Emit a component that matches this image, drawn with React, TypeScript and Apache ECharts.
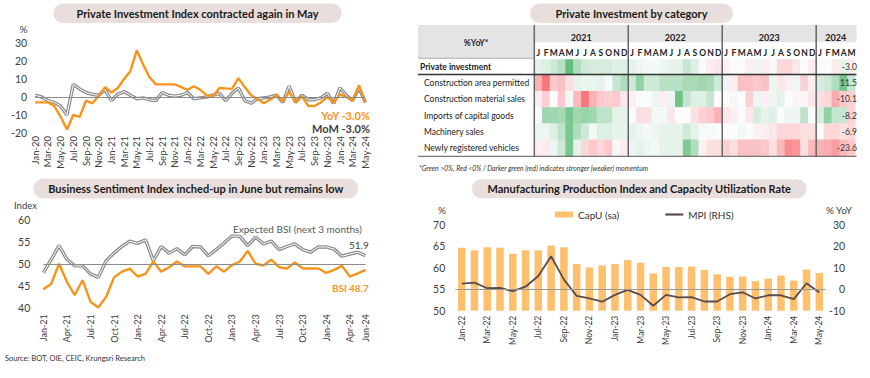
import React, { useEffect, useRef } from 'react';
import * as echarts from 'echarts';

const FONT = 'Lato, "Open Sans", sans-serif';
const ORANGE = '#f7941d';
const GRAY = '#8c8c8c';
const PILL = '#e8dfdd';
const TXT = '#404040';

const MONTH_ABBR = ['Jan', 'Feb', 'Mar', 'Apr', 'May', 'Jun', 'Jul', 'Aug', 'Sep', 'Oct', 'Nov', 'Dec'];
function monthLabels(y0: number, m0: number, n: number): string[] {
  const out: string[] = [];
  for (let i = 0; i < n; i++) {
    const m = (m0 + i) % 12;
    const y = y0 + Math.floor((m0 + i) / 12);
    out.push(`${MONTH_ABBR[m]}-${String(y % 100).padStart(2, '0')}`);
  }
  return out;
}

// ---------- Panel 1: Private Investment Index ----------
const piiMonths = monthLabels(2020, 0, 53);
const piiYoY = [
  -3, -3, -3, -5, -11, -18, -10, -11, -2, -3.5, 0.5, 5.5,
  2.5, 5, 10, 14.5, 26, 18, 11, 7, 7, 7, 7, 5.5,
  4, 6, 4, 1, 0.3, 5, 4.8, 4.5, 10.5, 5.5, 1, -1,
  -3.5, -1.5, 1, -2.5, 3, -3, 0.5, -5, -5, -3, 0, -3,
  1.5, 0, -2, 6.5, -3,
];
const piiMoM = [
  1, 0, -2, -3, -5, -10, 7, 4.5, 2.5, 1.5, 1, 4,
  -2, 1.5, 3, 1, -1, -0.5, -1.5, -2, 2.5, 1, 0.5, 1,
  2.5, -1, -0.5, 0, 1, 2, -2, 2, 5, -2, -3.5, -1,
  -0.5, 0, 1, -3, 6, -3, 1, -1.5, -1.5, -0.5, 2, -3.5,
  5, 1, -2, 5, -3,
];

// ---------- Panel 2: Business Sentiment Index ----------
const bsiMonths = monthLabels(2021, 0, 42);
const bsiActual = [
  44.3, 45.5, 50.1, 46, 43, 46.4, 41.5, 40.2, 42.6, 47, 48.3, 49,
  47.2, 47.8, 50.6, 48.3, 49.3, 50.6, 49.5, 49.5, 49.5, 47.8, 49.5, 48.3,
  49.8, 50.6, 53, 50.1, 49.7, 51, 49.3, 49, 50.4, 49, 49, 49,
  48, 48.7, 49.6, 47.2, 47.9, 48.7,
];
const bsiExpected = [
  48, 51, 54.2, 51.1, 49.6, 49.6, 47.8, 47, 50.8, 52.5, 54, 55.2,
  54.7, 55.5, 50.8, 54, 52.5, 53.5, 52.1, 54, 53.9, 51.9, 53.3, 54.8,
  56.4, 56.3, 54.2, 56.1, 54.6, 55.2, 53.3, 54, 54.6, 53.3, 52.7, 53.9,
  53.9, 53.4, 51.8, 52.3, 52.7, 51.9,
];

// ---------- Panel 4: MPI and CapU ----------
const mpiMonths = monthLabels(2022, 0, 29);
const capU = [
  64.7, 64.1, 64.8, 64.7, 63.3, 64.1, 64.1, 65.2, 64.8, 60.9, 60.1, 60.6,
  60.9, 61.8, 61.2, 58.7, 60.2, 60.2, 60.3, 59.5, 58.5, 57.9, 58, 56.9,
  57.5, 58.2, 57, 59.6, 58.8,
];
const mpiYoY = [
  2.6, 3.1, 0.5, 0.6, -0.9, 1.2, 6.2, 15.4, 4.6, -3.1, -4.2, -5.8,
  -2.6, -0.3, -2.6, -7.7, -2.6, -3.8, -3.7, -5.7, -5.7, -2.3, -1.4, -4.3,
  -2.8, -2.8, -4.6, 2.8, -1.5,
];

// ---------- Panel 3: heat table (colour intensity, -1 red .. +1 green) ----------
const heatMonthLetters = [
  'J', 'F', 'M', 'A', 'M', 'J', 'J', 'A', 'S', 'O', 'N', 'D',
  'J', 'F', 'M', 'A', 'M', 'J', 'J', 'A', 'S', 'O', 'N', 'D',
  'J', 'F', 'M', 'A', 'M', 'J', 'J', 'A', 'S', 'O', 'N', 'D',
  'J', 'F', 'M', 'A', 'M',
];
const heatYears = ['2021', '2022', '2023', '2024'];
const heatYearSpans = [12, 12, 12, 5];
const heatTopRow = ['Private investment'];
const heatTopLatest = ['-3.0'];
const heatRows = [
  'Construction area permitted',
  'Construction material sales',
  'Imports of capital goods',
  'Machinery sales',
  'Newly registered vehicles',
];
const heatLatest = ['11.5', '-10.1', '-8.2', '-6.9', '-23.6'];

const hmPrivateInvestment = [
  0.15, 0.2, 0.3, 0.45, 1.0, 0.5, 0.3, 0.25, 0.25, 0.25, 0.2, 0.2,
  0.15, 0.1, 0.05, 0.05, 0.1, 0.15, 0.15, 0.35, 0.2, 0.03, -0.1, -0.15,
  -0.08, 0.02, 0.02, -0.1, 0.1, -0.1, 0.03, -0.25, -0.25, -0.15, 0.02, -0.12,
  0.02, 0.02, -0.12, 0.15, -0.1,
];
const hmConstructionArea = [
  -0.5, -0.9, -0.35, -0.4, -0.2, 0.15, 0.12, 0.12, 0.15, 0.03, 0.35, 0.5,
  0.3, 0.7, 0.3, 0.3, 0.45, 0.45, 0.45, 0.55, 0.55, 0.6, 0.55, 0.3,
  0.1, -0.1, -0.4, -0.4, -0.35, -0.4, 0.1, -0.15, -0.08, 0.1, -0.3, -0.1,
  0.25, 0.3, 0.5, 0.9, 0.35,
];
const hmConstructionMaterial = [
  -0.1, -0.3, 0, -0.35, 0.05, -0.45, -0.9, -0.5, -0.35, -0.3, -0.35, -0.15,
  -0.08, 0.02, 0.02, 0.1, -0.1, 0.1, 0.9, 0.35, 0.2, 0.2, 0.35, 0,
  0.02, 0.05, 0.02, -0.3, 0.1, -0.1, 0.1, 0.15, 0, -0.05, -0.05, -0.15,
  -0.2, -0.25, -0.55, -0.35, -0.3,
];
const hmCapitalImports = [
  0.02, 0.6, 0.6, 0.55, 0.85, 0.6, 0.65, 0.6, 0.4, 0.4, 0.15, 0.15,
  0.02, -0.2, -0.2, 0.05, 0.05, -0.15, 0.02, 0.02, -0.2, -0.3, -0.35, -0.5,
  -0.15, -0.1, 0.02, -0.15, 0.25, 0.15, 0.2, 0.02, 0.1, 0.1, 0.4, 0.02,
  0.25, 0.7, 0.35, 0.35, -0.3,
];
const hmMachinerySales = [
  0.1, 0.1, 0.2, 0.4, 0.85, 0.5, 0.3, 0.05, 0.2, 0.2, 0.15, 0.15,
  0.15, 0.1, 0.05, 0.1, 0.15, 0.15, 0.15, 0.3, 0.15, 0.03, 0.03, 0.02,
  0.02, 0.02, 0.05, 0.02, -0.08, -0.1, -0.15, -0.25, -0.25, -0.25, -0.2, -0.2,
  0.02, -0.25, -0.25, -0.2, -0.25,
];
const hmVehicles = [
  -0.1, -0.12, 0.1, 0.3, 0.85, 0.15, -0.25, -0.35, -0.25, -0.35, 0.05, -0.1,
  0.1, 0.15, 0.1, 0.05, 0.15, 0.15, 0.15, 0.8, 0.5, -0.08, -0.2, -0.2,
  -0.3, -0.2, -0.4, -0.4, -0.4, -0.35, -0.2, -0.45, -0.75, -0.7, -0.2, -0.45,
  -0.5, -0.55, -0.65, -0.45, -0.35,
];
const hmDetailRows = [hmConstructionArea, hmConstructionMaterial, hmCapitalImports, hmMachinerySales, hmVehicles];

// ---------- layout ----------
const HM_LEFT = 534.3;
const HM_CELL = 7.83;
const HM_W = HM_CELL * heatMonthLetters.length;
const HM_TOP1 = 59.5;
const HM_H1 = 14.8;
const HM_TOP2 = 75;
const HM_H2 = 81;
const TABLE_L = 418;
const TABLE_R = 856.5;
const TITLE_FS = 11;

function pill(x: number, y: number, w: number, h: number, text: string, fs: number): any[] {
  return [
    { type: 'rect', z: 1, shape: { x, y, width: w, height: h, r: h / 2 }, style: { fill: PILL } },
    {
      type: 'text', z: 2, x: x + w / 2, y: y + h / 2,
      style: { text, fill: '#1a1a1a', fontSize: fs, fontWeight: 'bold', fontFamily: FONT, align: 'center', verticalAlign: 'middle' },
    },
  ];
}
function label(x: number, y: number, text: string, o: any = {}): any {
  return {
    type: 'text', z: 50, x, y,
    style: { text, fill: TXT, fontSize: 10, fontFamily: FONT, align: 'left', verticalAlign: 'middle', ...o },
  };
}
function hline(x1: number, x2: number, y: number, stroke: string, w: number): any {
  return { type: 'line', z: 100, shape: { x1, y1: y, x2, y2: y }, style: { stroke, lineWidth: w } };
}
function vline(x: number, y1: number, y2: number, stroke: string, w: number): any {
  return { type: 'line', z: 100, shape: { x1: x, y1, x2: x, y2 }, style: { stroke, lineWidth: w } };
}

function buildOption(): any {
  const graphic: any[] = [];
  graphic.push(...pill(53.3, 3.5, 288.4, 19.5, 'Private Investment Index contracted again in May', TITLE_FS));
  graphic.push(...pill(33.3, 178.5, 325, 20, 'Business Sentiment Index inched-up in June but remains low', TITLE_FS));
  graphic.push(...pill(530, 3.5, 203, 19.5, 'Private Investment by category', TITLE_FS));
  graphic.push(...pill(471.7, 179.3, 335, 19, 'Manufacturing Production Index and Capacity Utilization Rate', TITLE_FS));

  // panel 1 texts
  graphic.push(label(19.5, 28.5, '%', { fontSize: 10 }));
  graphic.push(label(370, 115.5, 'YoY -3.0%', { align: 'right', fill: ORANGE, fontWeight: 'bold', fontSize: 11 }));
  graphic.push(label(370, 128.5, 'MoM -3.0%', { align: 'right', fill: '#404040', fontWeight: 'bold', fontSize: 11 }));
  // panel 2 texts
  graphic.push(label(14, 205, 'Index', { fontSize: 9.5 }));
  graphic.push(label(233, 229, 'Expected BSI (next 3 months)', { fill: '#595959', fontSize: 10 }));
  graphic.push(label(349, 244.5, '51.9', { fill: '#404040', fontSize: 10 }));
  graphic.push(label(332, 287.5, 'BSI', { fill: ORANGE, fontWeight: 'bold', fontSize: 10 }));
  graphic.push(label(349, 287.5, '48.7', { fill: ORANGE, fontWeight: 'bold', fontSize: 10 }));
  graphic.push(label(5, 358.5, 'Source: BOT, OIE, CEIC, Krungsri Research', { fontSize: 7.5, fill: '#333' }));
  // panel 4 texts
  graphic.push(label(442, 209.5, '%', { align: 'center', fontSize: 10 }));
  graphic.push(label(839, 209.5, '% YoY', { align: 'center', fontSize: 10 }));

  // panel 3 table decorations
  graphic.push({ type: 'rect', z: 0, shape: { x: TABLE_L, y: 25, width: HM_LEFT - TABLE_L, height: 33 }, style: { fill: '#e4e4e4' } });
  graphic.push({ type: 'rect', z: 0, shape: { x: HM_LEFT, y: 25, width: TABLE_R - HM_LEFT, height: 17.3 }, style: { fill: '#e4e4e4' } });
  graphic.push(label((TABLE_L + HM_LEFT) / 2, 42.5, '%YoY*', { align: 'center', fontWeight: 'bold', fontSize: 8.5, fill: '#222' }));
  let acc = 0;
  heatYears.forEach((yr, i) => {
    const x0 = HM_LEFT + acc * HM_CELL;
    const span = heatYearSpans[i];
    graphic.push(label(x0 + (span * HM_CELL) / 2, 37, yr, { align: 'center', fontWeight: 'bold', fontSize: 9, fill: '#222' }));
    if (i > 0) graphic.push(vline(x0, 25, 157, '#666', 1.5));
    acc += span;
  });
  graphic.push(vline(HM_LEFT, 25, 157, '#666', 1.5));
  graphic.push(hline(TABLE_L, HM_LEFT, 58.3, '#999', 0.8));
  graphic.push(hline(TABLE_L, TABLE_R, 74.5, '#333', 1.4));
  graphic.push(hline(TABLE_L, TABLE_R, 156.3, '#555', 1));
  graphic.push(label(419, 167.5, '*Green >0%, Red <0% / Darker green (red) indicates stronger (weaker) momentum', { fontSize: 6.8, fontStyle: 'italic', fill: '#333' }));

  const axisLabelBase = { color: TXT, fontFamily: FONT };
  const noLine = { show: false };

  const heatTopData = hmPrivateInvestment.map((v, i) => [i, 0, v]);
  const heatDetailData: number[][] = [];
  hmDetailRows.forEach((row, r) => row.forEach((v, i) => heatDetailData.push([i, r, v])));

  return {
    animation: false,
    textStyle: { fontFamily: FONT },
    grid: [
      { left: 35.2, right: 870 - 365.4, top: 43, height: 90, outerBoundsMode: 'none' },
      { left: 43.3, right: 870 - 365.6, top: 220, height: 88.3, outerBoundsMode: 'none' },
      { left: HM_LEFT, width: HM_W, top: HM_TOP1, height: HM_H1, outerBoundsMode: 'none' },
      { left: HM_LEFT, width: HM_W, top: HM_TOP2, height: HM_H2, outerBoundsMode: 'none' },
      { left: 455.3, right: 44.3, top: 225, height: 85.7, outerBoundsMode: 'none' },
    ],
    xAxis: [
      {
        gridIndex: 0, type: 'category', data: piiMonths, boundaryGap: false,
        axisLine: noLine, axisTick: noLine,
        axisLabel: { ...axisLabelBase, rotate: 90, interval: 1, fontSize: 9.5, margin: 3 },
      },
      {
        gridIndex: 1, type: 'category', data: bsiMonths, boundaryGap: false,
        axisLine: noLine, axisTick: noLine,
        axisLabel: { ...axisLabelBase, rotate: 90, fontSize: 9, margin: 6, interval: (i: number) => i % 3 === 0 || i === bsiMonths.length - 1 },
      },
      {
        gridIndex: 2, type: 'category', data: heatMonthLetters, position: 'top',
        axisLine: noLine, axisTick: noLine,
        axisLabel: { color: '#222', fontFamily: FONT, fontWeight: 'bold', fontSize: 8.5, interval: 0, margin: 2 },
      },
      {
        gridIndex: 3, type: 'category', data: heatMonthLetters,
        axisLine: noLine, axisTick: noLine, axisLabel: { show: false },
      },
      {
        gridIndex: 4, type: 'category', data: mpiMonths,
        axisLine: noLine, axisTick: noLine,
        axisLabel: { ...axisLabelBase, rotate: 90, interval: 1, fontSize: 8.5, margin: 5 },
      },
    ],
    yAxis: [
      {
        gridIndex: 0, type: 'value', min: -20, max: 30, interval: 10,
        splitLine: noLine, axisLine: noLine, axisTick: noLine,
        axisLabel: { ...axisLabelBase, fontSize: 10.5, margin: 8 },
      },
      {
        gridIndex: 1, type: 'value', min: 40, max: 60, interval: 5,
        splitLine: noLine, axisLine: noLine, axisTick: noLine,
        axisLabel: { ...axisLabelBase, fontSize: 10.5, margin: 13 },
      },
      {
        gridIndex: 2, type: 'category', data: heatTopRow, z: 10,
        axisLine: noLine, axisTick: noLine,
        axisLabel: { color: '#1a1a1a', fontFamily: FONT, fontWeight: 'bold', fontSize: 8.5, align: 'left', margin: HM_LEFT - 420, padding: [5, 0, 0, 0] },
      },
      {
        gridIndex: 2, type: 'category', data: heatTopLatest, position: 'right', z: 10,
        axisLine: noLine, axisTick: noLine,
        axisLabel: { color: '#333', fontFamily: FONT, fontSize: 8.5, align: 'right', margin: 1.5, padding: [5, 0, 0, 0] },
      },
      {
        gridIndex: 3, type: 'category', data: heatRows, inverse: true, z: 10,
        axisLine: noLine, axisTick: noLine,
        axisLabel: { color: '#1a1a1a', fontFamily: FONT, fontSize: 8.5, align: 'left', margin: HM_LEFT - 424, interval: 0, padding: [7, 0, 0, 0] },
      },
      {
        gridIndex: 3, type: 'category', data: heatLatest, inverse: true, position: 'right', z: 10,
        axisLine: noLine, axisTick: noLine,
        axisLabel: { color: '#333', fontFamily: FONT, fontSize: 8.5, align: 'right', margin: 1.5, interval: 0, padding: [7, 0, 0, 0] },
      },
      {
        gridIndex: 4, type: 'value', min: 50, max: 70, interval: 5,
        splitLine: noLine, axisLine: noLine, axisTick: noLine,
        axisLabel: { ...axisLabelBase, fontSize: 10.5, margin: 10 },
      },
      {
        gridIndex: 4, type: 'value', min: -10, max: 30, interval: 10, position: 'right',
        splitLine: noLine, axisLine: noLine, axisTick: noLine,
        axisLabel: { ...axisLabelBase, fontSize: 10.5, margin: 19.5, align: 'right' },
      },
    ],
    visualMap: {
      type: 'continuous', show: false, min: -1, max: 1, dimension: 2, seriesIndex: [6, 7],
      inRange: { color: ['#f8696b', '#fcfcff', '#63be7b'] },
    },
    legend: {
      data: [
        { name: 'CapU (sa)', icon: 'rect' },
        { name: 'MPI (RHS)', icon: 'path://M0,0L20,0L20,2.4L0,2.4Z', itemStyle: { color: '#5b4b4b' } },
      ],
      left: 550, top: 204.5, itemWidth: 18, itemHeight: 6, itemGap: 46,
      textStyle: { fontSize: 10, color: '#333', fontFamily: FONT },
      selectedMode: false,
    },
    series: [
      {
        type: 'line', xAxisIndex: 0, yAxisIndex: 0, data: piiMoM, symbol: 'none',
        lineStyle: { color: GRAY, width: 3.4 }, silent: true,
        markLine: { silent: true, symbol: 'none', label: { show: false }, lineStyle: { color: '#8c8c8c', width: 1, type: 'solid' }, data: [{ yAxis: 0 }] },
      },
      { type: 'line', xAxisIndex: 0, yAxisIndex: 0, data: piiMoM, symbol: 'none', lineStyle: { color: '#ffffff', width: 1 }, silent: true },
      { type: 'line', xAxisIndex: 0, yAxisIndex: 0, data: piiYoY, symbol: 'none', lineStyle: { color: ORANGE, width: 2.4 }, silent: true },
      {
        type: 'line', xAxisIndex: 1, yAxisIndex: 1, data: bsiExpected, symbol: 'none',
        lineStyle: { color: GRAY, width: 3.4 }, silent: true,
        markLine: { silent: true, symbol: 'none', label: { show: false }, lineStyle: { color: '#8c8c8c', width: 1.2, type: 'solid' }, data: [{ yAxis: 50 }] },
      },
      { type: 'line', xAxisIndex: 1, yAxisIndex: 1, data: bsiExpected, symbol: 'none', lineStyle: { color: '#ffffff', width: 1 }, silent: true },
      { type: 'line', xAxisIndex: 1, yAxisIndex: 1, data: bsiActual, symbol: 'none', lineStyle: { color: ORANGE, width: 2.4 }, silent: true },
      { type: 'heatmap', xAxisIndex: 2, yAxisIndex: 2, data: heatTopData, itemStyle: { borderWidth: 0 }, silent: true },
      { type: 'heatmap', xAxisIndex: 3, yAxisIndex: 4, data: heatDetailData, itemStyle: { borderWidth: 0 }, silent: true },
      {
        name: 'CapU (sa)', type: 'bar', xAxisIndex: 4, yAxisIndex: 6, data: capU, barWidth: 7.5,
        itemStyle: { color: '#ffc06e' }, silent: true,
        markLine: { silent: true, symbol: 'none', label: { show: false }, lineStyle: { color: '#999', width: 1.2, type: 'solid' }, data: [{ yAxis: 55 }] },
      },
      {
        name: 'MPI (RHS)', type: 'line', xAxisIndex: 4, yAxisIndex: 7, data: mpiYoY, symbol: 'none',
        lineStyle: { color: '#5b4b4b', width: 1.8 }, itemStyle: { color: '#5b4b4b' }, silent: true,
      },
    ],
    graphic,
  };
}

export default function App() {
  const ref = useRef<HTMLDivElement>(null);
  useEffect(() => {
    if (!ref.current) return;
    const chart = echarts.init(ref.current, undefined, { renderer: 'svg' });
    chart.setOption(buildOption());
    return () => chart.dispose();
  }, []);
  return (
    <div
      ref={ref}
      style={{ position: 'fixed', left: 0, top: 0, width: 870, height: 378, background: '#ffffff' }}
    />
  );
}
